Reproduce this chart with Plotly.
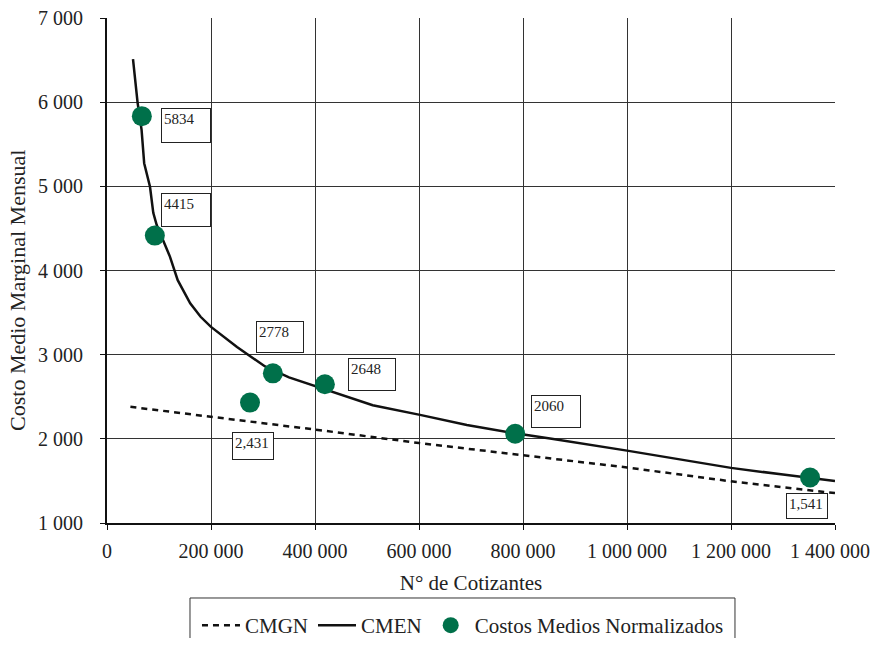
import plotly.graph_objects as go

# ---- data ----
cmen_x = [50000, 58800, 66500, 71500, 82700, 89000, 95600, 121000, 136000, 160000, 180000,
          200000, 250000, 304000, 350000, 400000, 511000, 602000, 692000, 785000, 852000,
          1000000, 1100000, 1200000, 1300000, 1400000]
cmen_y = [6510, 5995, 5670, 5275, 4995, 4685, 4540, 4165, 3885, 3610, 3450,
          3330, 3090, 2860, 2730, 2625, 2400, 2285, 2165, 2065, 2005,
          1860, 1755, 1655, 1575, 1500]

cmgn_x = [45000, 200000, 400000, 600000, 800000, 1000000, 1200000, 1400000]
cmgn_y = [2380, 2265, 2110, 1950, 1808, 1660, 1495, 1355]

norm_x = [67000, 92000, 275000, 319000, 419000, 785000, 1352000]
norm_y = [5834, 4415, 2431, 2778, 2648, 2060, 1541]
norm_labels = ["5834", "4415", "2,431", "2778", "2648", "2060", "1,541"]

NB = "\u00a0"
x_tickvals = [0, 200000, 400000, 600000, 800000, 1000000, 1200000, 1400000]
x_ticktext = ["0", "200 000", "400 000", "600 000", "800 000", "1 000 000", "1 200 000",
              "1 400 000" + NB * 2]
y_tickvals = [1000, 2000, 3000, 4000, 5000, 6000, 7000]
y_ticktext = ["1 000", "2 000", "3 000", "4 000", "5 000", "6 000", "7 000"]

# ---- styling ----
FONT = "Liberation Serif, Times New Roman, serif"
GREEN = "#00704a"

# label box geometry: (xshift, yshift, box width, box height)
label_geom = [(44, -9.5, 50, 35), (31, 26, 50, 34), (2.5, -43, 42, 28), (7.5, 36, 48, 32),
              (47.5, 10, 48, 33), (41, 22, 50, 33), (-3.5, -28.5, 42, 26)]

fig = go.Figure()
fig.add_trace(go.Scatter(x=cmgn_x, y=cmgn_y, mode="lines", name="CMGN",
                         line=dict(color="#111", width=2.5, dash="6px,5px")))
fig.add_trace(go.Scatter(x=cmen_x, y=cmen_y, mode="lines", name="CMEN",
                         line=dict(color="#111", width=2.5)))
fig.add_trace(go.Scatter(x=norm_x, y=norm_y, mode="markers", name="Costos Medios Normalizados",
                         marker=dict(color=GREEN, size=20)))

annotations = []
for xv, yv, lab, (dx, dy, bw, bh) in zip(norm_x, norm_y, norm_labels, label_geom):
    pad, bwid = 2, 1
    annotations.append(dict(
        x=xv, y=yv, xref="x", yref="y", text=lab, showarrow=False,
        xshift=dx, yshift=dy, xanchor="center", yanchor="middle",
        width=bw - 2 * (pad + bwid), height=bh - 2 * (pad + bwid),
        align="left", valign="top", borderpad=pad, borderwidth=bwid,
        bordercolor="#222", bgcolor="white",
        font=dict(family=FONT, size=15, color="#222")))

# y-axis title as a rotated annotation (sits slightly below the plot centre)
annotations.append(dict(
    x=-0.1223, y=0.4614, xref="paper", yref="paper", text="Costo Medio Marginal Mensual",
    textangle=-90, showarrow=False, xanchor="center", yanchor="middle",
    font=dict(family=FONT, size=22, color="#222")))

# legend frame (extends past the bottom edge, as in the reference)
shapes = [dict(type="rect", xref="paper", yref="paper",
               x0=0.114, x1=0.8626, y0=-0.1485, y1=-0.30,
               line=dict(color="#333", width=1), fillcolor="rgba(0,0,0,0)", layer="above")]

fig.update_layout(
    width=862, height=630,
    margin=dict(l=99, r=35, t=10, b=115, autoexpand=False),
    paper_bgcolor="white", plot_bgcolor="white",
    font=dict(family=FONT, size=20, color="#222"),
    showlegend=True,
    legend=dict(orientation="h", x=0.1236, xanchor="left", y=-0.203, yanchor="middle",
                borderwidth=0, bgcolor="rgba(0,0,0,0)",
                font=dict(family=FONT, size=21, color="#222"),
                itemwidth=38),
    annotations=annotations,
    shapes=shapes,
)
fig.update_xaxes(range=[0, 1400000], tickvals=x_tickvals, ticktext=x_ticktext,
                 showgrid=True, gridcolor="#333", gridwidth=1,
                 showline=True, linecolor="#111", linewidth=2,
                 ticks="outside", ticklen=5, tickcolor="#111", tickwidth=1,
                 ticklabelstandoff=4, ticklabeloverflow="allow", zeroline=False,
                 title=dict(text="N° de Cotizantes", font=dict(family=FONT, size=21), standoff=14))
fig.update_yaxes(range=[1000, 7000], tickvals=y_tickvals, ticktext=y_ticktext,
                 showgrid=True, gridcolor="#333", gridwidth=1,
                 showline=True, linecolor="#111", linewidth=2,
                 ticks="outside", ticklen=5, tickcolor="#111", tickwidth=1,
                 ticklabelstandoff=13, ticklabeloverflow="allow", zeroline=False)

fig.write_html("out.html")
